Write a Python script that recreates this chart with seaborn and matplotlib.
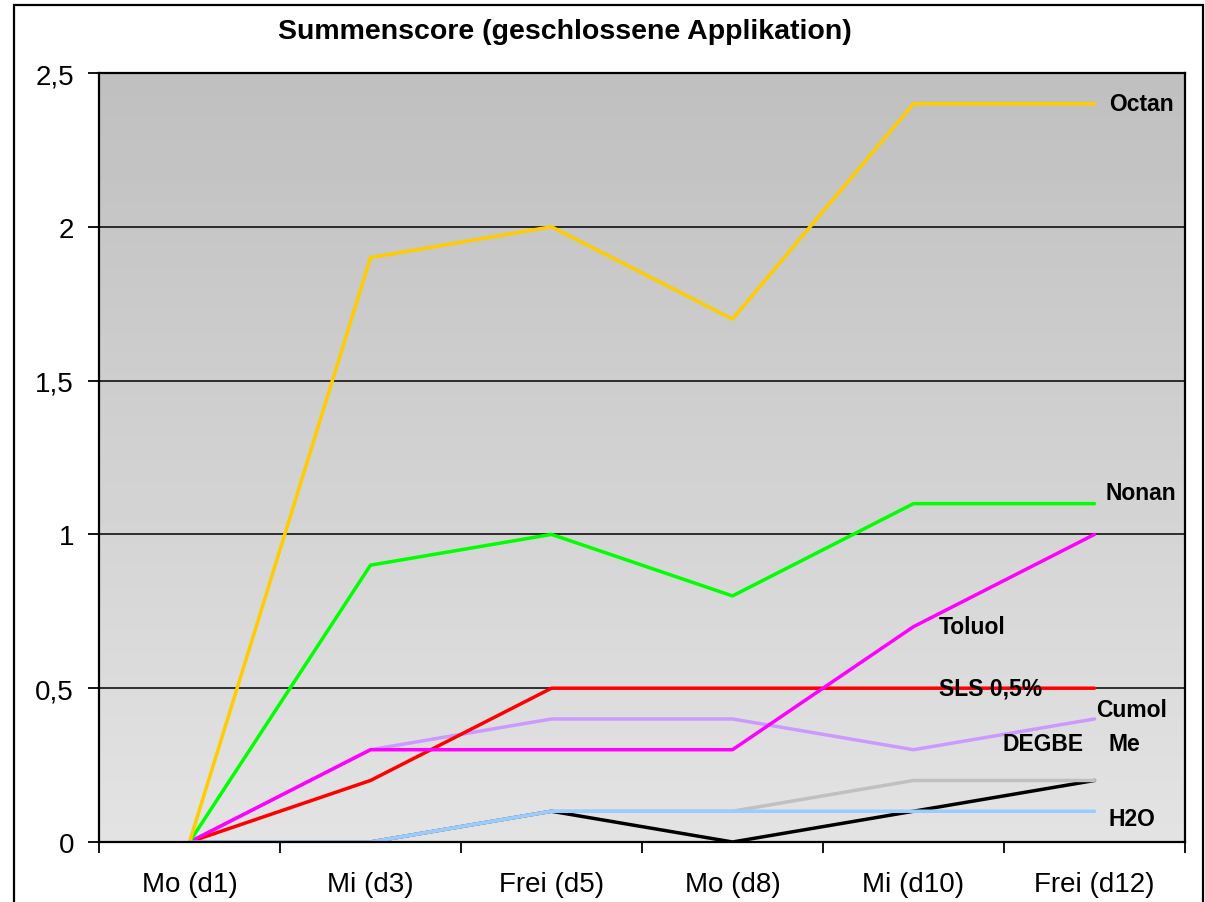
import numpy as np
import pandas as pd
import matplotlib.pyplot as plt
import seaborn as sns
from matplotlib.patches import Rectangle

# data
days = ["Mo (d1)", "Mi (d3)", "Frei (d5)", "Mo (d8)", "Mi (d10)", "Frei (d12)"]
me = [0, 0, 0.1, 0, 0.1, 0.2]
degbe = [0, 0, 0.1, 0.1, 0.2, 0.2]
cumol = [0, 0.3, 0.4, 0.4, 0.3, 0.4]
sls = [0, 0.2, 0.5, 0.5, 0.5, 0.5]
toluol = [0, 0.3, 0.3, 0.3, 0.7, 1.0]
nonan = [0, 0.9, 1.0, 0.8, 1.1, 1.1]
octan = [0, 1.9, 2.0, 1.7, 2.4, 2.4]
h2o = [0, 0, 0.1, 0.1, 0.1, 0.1]

series = {"Me": me, "DEGBE": degbe, "Cumol": cumol, "SLS 0,5%": sls,
          "Toluol": toluol, "Nonan": nonan, "Octan": octan, "H2O": h2o}
colors = {"Me": "#000000", "DEGBE": "#C0C0C0", "Cumol": "#CC99FF", "SLS 0,5%": "#FF0000",
          "Toluol": "#FF00FF", "Nonan": "#00FF00", "Octan": "#FFCC00", "H2O": "#99CCFF"}

# label positions (category index, value)
label_pos = {"Octan": (5.08, 2.40), "Nonan": (5.06, 1.135), "Toluol": (4.14, 0.70),
             "SLS 0,5%": (4.14, 0.50), "Cumol": (5.01, 0.43), "DEGBE": (4.49, 0.32),
             "Me": (5.08, 0.32), "H2O": (5.08, 0.075)}

df = pd.DataFrame([(name, d, v) for name, vals in series.items() for d, v in zip(days, vals)],
                  columns=["serie", "tag", "wert"])

sns.set_style("white")
plt.rcParams['font.family'] = ['Liberation Sans', 'DejaVu Sans']
plt.rcParams['text.color'] = 'black'
plt.rcParams['xtick.color'] = 'black'
plt.rcParams['ytick.color'] = 'black'

fig = plt.figure(figsize=(12.05, 9.03), dpi=100)
ax = fig.add_axes([99/1205, 1-843/903, 1086/1205, 769/903])

# grey gradient background
grad = np.linspace(0.89, 0.75, 256).reshape(-1, 1)
ax.imshow(grad, cmap="gray", vmin=0, vmax=1, aspect="auto", origin="lower",
          extent=[0, 1, 0, 1], transform=ax.transAxes, zorder=0)

for v in [0.5, 1, 1.5, 2]:
    ax.axhline(v, color="black", lw=1.1, zorder=1)

sns.lineplot(data=df, x="tag", y="wert", hue="serie", palette=colors, sort=False,
             lw=2.5, ax=ax, legend=False, zorder=3)

for name, (x, y) in label_pos.items():
    ax.text(x, y, name, fontsize=16.5, fontweight="bold", va="center", ha="left", zorder=5)

ax.set_xlim(-0.5, 5.5)
ax.set_ylim(0, 2.5)
ax.set_yticks([0, 0.5, 1, 1.5, 2, 2.5])
ax.set_yticklabels(["0", "0,5", "1", "1,5", "2", "2,5"], fontsize=20)
ax.set_xticks(np.arange(-0.5, 6, 1))
ax.set_xticklabels([])
ax.set_xticks(range(len(days)), minor=True)
ax.set_xticklabels(days, minor=True, fontsize=20)
ax.tick_params(axis="x", which="major", length=8, width=1.3, direction="out", bottom=True)
ax.tick_params(axis="x", which="minor", length=0, pad=21, bottom=True)
ax.tick_params(axis="y", length=8, width=1.3, direction="out", left=True, pad=10)
ax.set_xlabel("")
ax.set_ylabel("")
for s in ax.spines.values():
    s.set_color("black")
    s.set_linewidth(1.6)
    s.set_zorder(6)

fig.text(565/1205, 1-32/903, "Summenscore (geschlossene Applikation)", fontsize=20.5,
         fontweight="bold", ha="center", va="center")

fig.patches.append(Rectangle((14/1205, -0.05), 1189/1205, 1.05-6/903, transform=fig.transFigure,
                             fill=False, edgecolor="black", lw=1.6))

fig.savefig("out.png", dpi=100)
